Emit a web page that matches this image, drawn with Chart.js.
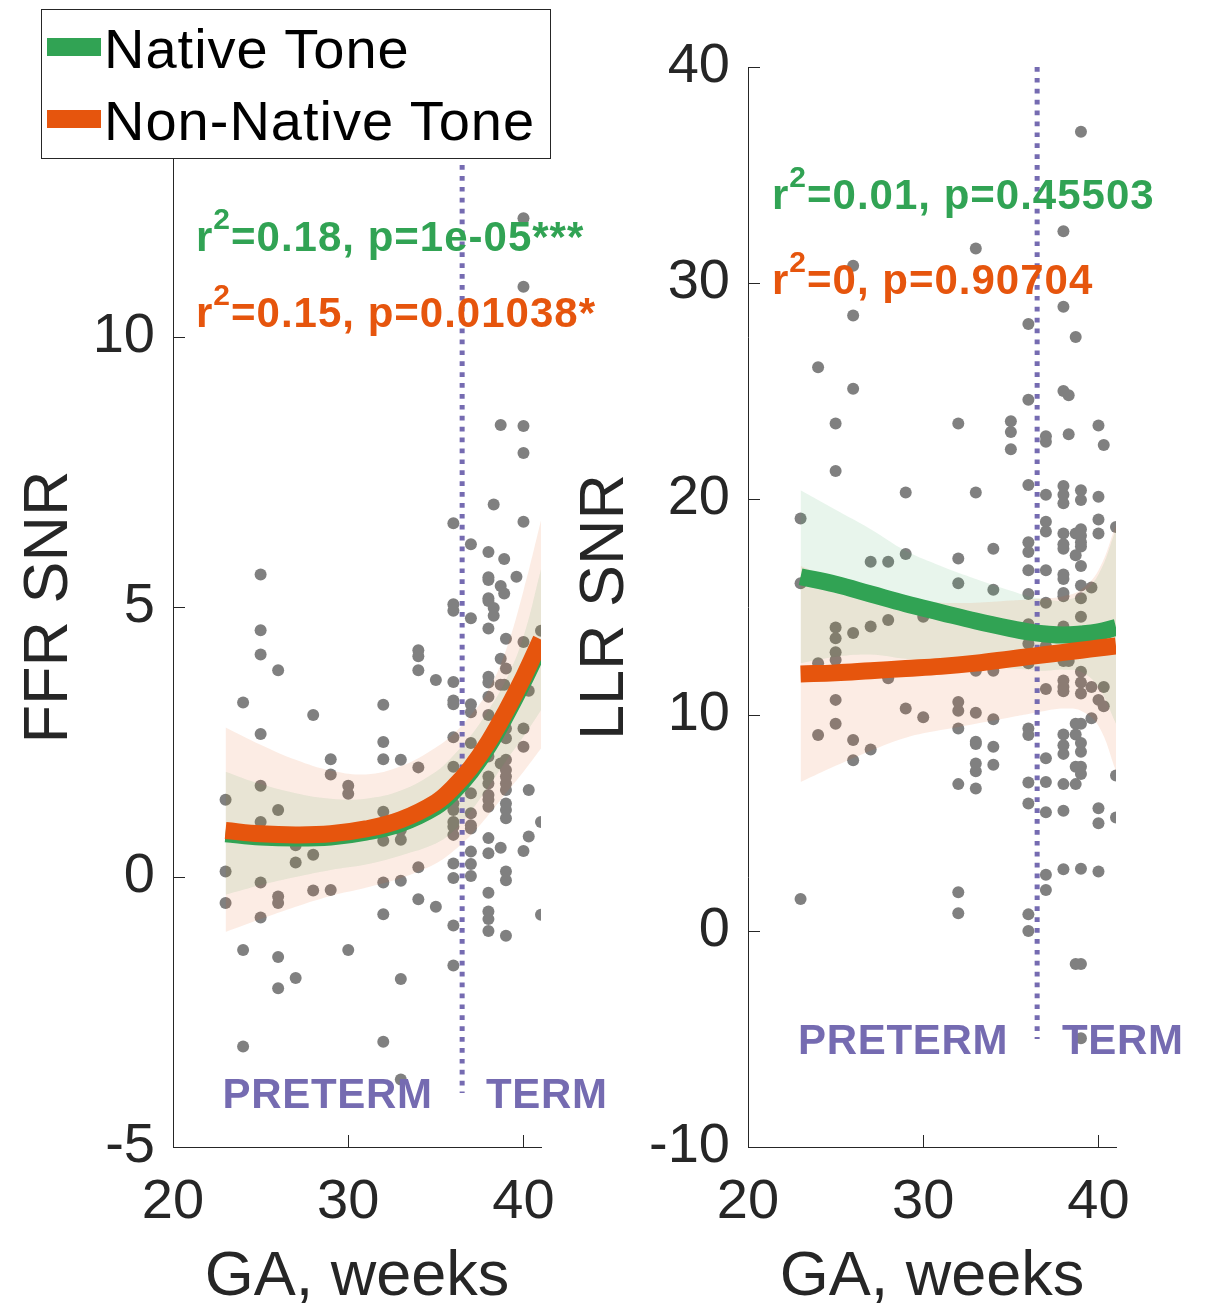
<!DOCTYPE html>
<html>
<head>
<meta charset="utf-8">
<title>FFR / LLR SNR by gestational age</title>
<script src="https://cdn.jsdelivr.net/npm/chart.js@4.4.1/dist/chart.umd.min.js"></script>
<style>
    body { margin: 0; background: #fff; font-family: "Liberation Sans", Arial, sans-serif; }
    #page { position: relative; width: 1210px; height: 1306px; overflow: hidden; }
    canvas { position: absolute; top: 0; }
    #ffrChart { left: 0; }
    #llrChart { left: 560px; }
    .legend { position: absolute; left: 41px; top: 9px; width: 508px; height: 148px; border: 1px solid #262626; background: #fff; }
    .legend .swatch { position: absolute; left: 5px; width: 54px; height: 18px; }
    .legend .label { position: absolute; left: 62px; font-size: 56px; line-height: 56px; letter-spacing: 1px; color: #000; white-space: nowrap; }
    .stat { position: absolute; font-weight: bold; font-size: 42px; line-height: 42px; letter-spacing: 1px; white-space: nowrap; }
    .stat .sq { font-size: 30px; position: relative; top: -22px; }
    .native { color: #31a354; }
    .nonnative { color: #e6550d; }
    .period { position: absolute; font-weight: bold; font-size: 42px; line-height: 42px; letter-spacing: 0.7px; color: #756bb1; white-space: nowrap; }
</style>
</head>
<body>
<div id="page">
    <canvas id="ffrChart" width="600" height="1306"></canvas>
    <canvas id="llrChart" width="650" height="1306"></canvas>

    <div class="legend">
        <span class="swatch" style="top:28px;background:#31a354"></span>
        <span class="label" style="top:11px">Native Tone</span>
        <span class="swatch" style="top:100px;background:#e6550d"></span>
        <span class="label" style="top:82.6px">Non-Native Tone</span>
    </div>

    <div class="stat native" style="left:196px;top:216.1px">r<span class="sq">2</span>=0.18, p=1e-05***</div>
    <div class="stat nonnative" style="left:196px;top:292.4px">r<span class="sq">2</span>=0.15, p=0.01038*</div>
    <div class="stat native" style="left:772px;top:174.4px">r<span class="sq">2</span>=0.01, p=0.45503</div>
    <div class="stat nonnative" style="left:772px;top:259.4px">r<span class="sq">2</span>=0, p=0.90704</div>

    <div class="period" style="left:222.5px;top:1073.4px">PRETERM</div>
    <div class="period" style="left:486px;top:1073.4px">TERM</div>
    <div class="period" style="left:798px;top:1019.4px">PRETERM</div>
    <div class="period" style="left:1062px;top:1019.4px">TERM</div>
</div>

<script>
// FFR SNR per infant (GA in weeks)
const ffrGA = [
    40, 40, 38.7, 40, 40, 38.3, 40, 36, 37, 38,
    38.9, 25, 38, 38, 39.6, 38.7, 38.9, 38, 38, 36,
    36, 38.3, 38.3, 37, 38, 25, 41, 39, 40, 34,
    34, 25, 38.7, 26, 34, 39, 35, 36, 38, 38,
    38.7, 38.9, 40.3, 24, 36, 36, 37, 37, 38, 32,
    28, 38, 25, 40, 39, 39, 32, 36, 37, 40,
    29, 32, 33, 39, 34, 36, 39, 39, 39, 39,
    38.7, 38, 38, 38, 29, 30, 30, 25, 23, 26,
    25, 32, 33, 33, 32, 36, 36, 36, 36, 36,
    38, 38, 38, 37, 37, 37, 37, 39, 39, 39,
    40.3, 41, 40.3, 40, 27, 28, 27, 23, 25, 37,
    37, 37, 36, 36, 38, 38, 38.7, 34, 33, 32,
    39, 39, 26, 26, 28, 29, 23, 25, 32, 34,
    35, 38, 41, 36, 38, 38, 38, 39, 24, 26,
    30, 27, 26, 33, 36, 24, 32, 33
];
const ffrSNR = [
    12.2, 10.93, 8.37, 8.35, 7.85, 6.9, 6.58, 6.55, 6.16, 6.02,
    5.89, 5.6, 5.55, 5.5, 5.56, 5.39, 5.25, 5.16, 5.11, 5.05,
    4.93, 4.98, 4.84, 4.79, 4.6, 4.57, 4.56, 4.41, 4.35, 4.2,
    4.09, 4.12, 4.04, 3.83, 3.83, 3.86, 3.65, 3.61, 3.71, 3.6,
    3.56, 3.56, 3.45, 3.23, 3.27, 3.2, 3.2, 3.05, 3.34, 3.19,
    3.0, 3.0, 2.65, 2.75, 2.75, 2.57, 2.5, 2.59, 2.48, 2.41,
    2.18, 2.18, 2.17, 2.17, 2.03, 2.04, 1.98, 1.86, 1.73, 1.61,
    2.1, 2.23, 1.86, 1.73, 1.9, 1.69, 1.54, 1.69, 1.43, 1.24,
    1.02, 1.21, 0.87, 0.69, 0.67, 1.36, 1.24, 1.02, 0.93, 0.78,
    1.52, 1.43, 1.3, 1.55, 1.18, 0.96, 0.9, 1.36, 1.24, 1.09,
    1.61, 1.02, 0.75, 0.48, 0.59, 0.41, 0.27, 0.1, -0.1, 0.47,
    0.24, 0.02, 0.25, -0.02, 0.72, 0.44, 0.54, 0.18, -0.07, -0.1,
    0.1, -0.06, -0.36, -0.48, -0.25, -0.24, -0.48, -0.75, -0.69, -0.41,
    -0.55, -0.29, -0.7, -0.9, -0.64, -0.78, -1.0, -1.09, -1.35, -1.48,
    -1.35, -1.87, -2.06, -1.89, -1.64, -3.14, -3.05, -3.75
];

// LLR SNR per infant
const llrGA = [
    39, 38, 33, 26, 26, 38, 36, 38.7, 24, 26,
    36, 38, 38.3, 25, 32, 35, 35, 35, 37, 37,
    38.3, 40, 40.3, 25, 36, 29, 33, 38, 38, 38,
    37, 39, 39, 40, 23, 37, 37, 40, 40, 41,
    38, 39, 39, 38.7, 39, 38.7, 39, 36, 36, 38,
    38, 27, 28, 29, 32, 34, 39, 36, 37, 38,
    38, 23, 32, 39, 39.6, 34, 36, 38, 38, 37,
    39, 30, 39, 25, 25, 25, 25, 26, 27, 28,
    36, 36, 36, 38, 38, 39, 37, 24, 36, 38,
    38.3, 33, 34, 28, 39, 39, 38, 38, 38, 37,
    39.6, 40.3, 39, 40, 40.3, 25, 32, 32, 33, 29,
    30, 34, 39.6, 39, 38.7, 25, 24, 36, 36, 38,
    38.7, 26, 27, 32, 33, 33, 34, 39, 39, 38,
    38, 26, 37, 33, 33, 34, 38.7, 39, 39, 41,
    32, 33, 36, 37, 38, 38.7, 36, 37, 38, 40,
    40, 41, 37, 37, 38, 39, 40, 23, 32, 32,
    36, 36, 38.7, 39, 39
];
const llrSNR = [
    37, 32.4, 31.6, 30.8, 28.5, 28.9, 28.1, 27.5, 26.1, 25.1,
    24.6, 25.0, 24.8, 23.5, 23.5, 23.6, 23.1, 22.3, 22.9, 22.65,
    23.0, 23.4, 22.5, 21.3, 20.65, 20.3, 20.3, 20.6, 20.2, 19.8,
    20.2, 20.4, 19.95, 20.1, 19.1, 18.95, 18.5, 19.05, 18.4, 18.7,
    18.4, 18.6, 18.3, 18.4, 17.8, 17.4, 18.0, 18.0, 17.55, 17.9,
    17.7, 17.1, 17.1, 17.45, 17.25, 17.7, 16.9, 16.7, 16.7, 16.5,
    16.3, 16.1, 16.1, 16.0, 15.9, 15.8, 15.6, 15.65, 15.5, 15.2,
    15.4, 14.55, 14.55, 14.05, 13.55, 12.9, 12.55, 13.8, 14.1, 14.4,
    14.2, 13.7, 13.3, 14.1, 13.8, 13.75, 13.2, 12.4, 12.4, 12.5,
    12.5, 12.05, 12.05, 11.7, 12.0, 11.5, 11.6, 11.3, 11.1, 11.2,
    11.3, 11.3, 11.0, 10.7, 10.4, 10.7, 10.6, 10.2, 10.1, 10.3,
    9.9, 9.8, 9.85, 9.6, 9.6, 9.6, 9.07, 9.38, 9.07, 9.1,
    9.1, 8.84, 8.4, 9.38, 8.76, 8.66, 8.53, 8.7, 8.3, 8.6,
    8.2, 7.9, 8.0, 7.76, 7.4, 7.7, 7.6, 7.6, 7.27, 7.2,
    6.8, 6.6, 6.87, 6.9, 6.8, 6.8, 5.9, 5.5, 5.57, 5.68,
    4.99, 5.25, 2.6, 1.9, 2.86, 2.88, 2.75, 1.48, 1.79, 0.82,
    0.77, 0.0, -1.53, -1.53, -4.97
];

// fitted curves and confidence bands, sampled at these GA values
const fitGA = [23, 25, 27, 29, 31, 33, 35, 36, 37, 38, 39, 40, 41];

const ffrNativeFit   = [0.80, 0.74, 0.72, 0.74, 0.83, 0.99, 1.30, 1.58, 1.95, 2.42, 2.99, 3.62, 4.30];
const ffrNativeUpper = [1.95, 1.72, 1.55, 1.45, 1.45, 1.60, 1.95, 2.25, 2.62, 3.09, 3.65, 4.45, 5.70];
const ffrNativeLower = [-0.33, -0.15, 0.0, 0.13, 0.23, 0.40, 0.62, 0.85, 1.22, 1.67, 2.15, 2.60, 3.09];
const ffrNonNativeFit   = [0.86, 0.80, 0.78, 0.80, 0.89, 1.06, 1.38, 1.66, 2.03, 2.50, 3.07, 3.70, 4.40];
const ffrNonNativeUpper = [2.77, 2.45, 2.17, 1.97, 1.90, 2.05, 2.40, 2.65, 3.00, 3.46, 4.20, 5.30, 6.60];
const ffrNonNativeLower = [-1.02, -0.78, -0.55, -0.35, -0.20, -0.02, 0.25, 0.48, 0.78, 1.15, 1.55, 1.95, 2.38];

const llrNativeFit   = [16.4, 16.05, 15.6, 15.15, 14.75, 14.35, 14.0, 13.85, 13.75, 13.7, 13.75, 13.85, 14.05];
const llrNativeUpper = [20.4, 19.5, 18.6, 17.6, 16.9, 16.3, 15.75, 15.5, 15.35, 15.3, 15.6, 16.5, 18.6];
const llrNativeLower = [12.4, 12.7, 12.8, 12.6, 12.5, 12.3, 12.15, 12.1, 12.05, 12.1, 12.0, 11.3, 9.6];
const llrNonNativeFit   = [11.9, 11.95, 12.05, 12.15, 12.25, 12.4, 12.6, 12.7, 12.8, 12.9, 13.0, 13.1, 13.2];
const llrNonNativeUpper = [16.9, 16.25, 15.75, 15.35, 15.2, 15.2, 15.3, 15.35, 15.4, 15.5, 15.8, 16.7, 18.8];
const llrNonNativeLower = [6.9, 7.65, 8.35, 8.95, 9.3, 9.6, 9.9, 10.05, 10.2, 10.3, 10.2, 9.5, 7.4];

// preterm / term cut-off
const termGA = [36.5, 36.5];
const ffrTermLineY = [15, -4];
const llrTermLineY = [40, -5];

const GREEN = '#31a354';
const ORANGE = '#e6550d';
const PURPLE = '#756bb1';
const GRAY = '#808080';
const AXIS = '#262626';

Chart.defaults.font.family = '"Liberation Sans", Arial, sans-serif';
Chart.defaults.color = AXIS;
Chart.defaults.animation = false;

function toPoints(xs, ys) {
    return xs.map((x, i) => ({ x: x, y: ys[i] }));
}

// MATLAB-style tick marks pointing into the plot
const inwardTicks = {
    id: 'inwardTicks',
    afterDraw(chart) {
        const { ctx, chartArea, scales } = chart;
        ctx.save();
        ctx.strokeStyle = AXIS;
        ctx.lineWidth = 1;
        ctx.beginPath();
        scales.x.ticks.forEach(t => {
            const px = Math.round(scales.x.getPixelForValue(t.value)) + 0.5;
            ctx.moveTo(px, chartArea.bottom);
            ctx.lineTo(px, chartArea.bottom - 12);
        });
        scales.y.ticks.forEach(t => {
            const py = Math.round(scales.y.getPixelForValue(t.value)) + 0.5;
            ctx.moveTo(chartArea.left, py);
            ctx.lineTo(chartArea.left + 12, py);
        });
        ctx.stroke();
        ctx.restore();
    }
};

function curve(xs, ys, extra) {
    return Object.assign({
        data: toPoints(xs, ys),
        showLine: true,
        pointRadius: 0,
        borderWidth: 0,
        tension: 0.4,
        fill: false
    }, extra);
}

function makePanel(canvasId, p) {
    const ctx = document.getElementById(canvasId).getContext('2d');
    return new Chart(ctx, {
        type: 'scatter',
        data: {
            datasets: [
                { data: toPoints(p.ga, p.snr), backgroundColor: GRAY, pointRadius: 6, pointBorderWidth: 0, order: 20 },
                curve(fitGA, p.nativeUpper, { fill: '+1', backgroundColor: 'rgba(49,163,84,0.11)', order: 12 }),
                curve(fitGA, p.nativeLower, { order: 12 }),
                curve(fitGA, p.nonNativeUpper, { fill: '+1', backgroundColor: 'rgba(230,85,13,0.11)', order: 11 }),
                curve(fitGA, p.nonNativeLower, { order: 11 }),
                {
                    data: toPoints(termGA, p.termY), showLine: true, pointRadius: 0,
                    borderColor: PURPLE, borderWidth: 5, borderDash: [4.7, 6.2], order: 5
                },
                curve(fitGA, p.nativeFit, { borderColor: GREEN, borderWidth: 17, order: 2 }),
                curve(fitGA, p.nonNativeFit, { borderColor: ORANGE, borderWidth: 17, order: 1 })
            ]
        },
        options: {
            responsive: false,
            devicePixelRatio: 1,
            layout: { padding: { left: 0, top: 67, right: p.padRight, bottom: 0 } },
            plugins: { legend: { display: false }, tooltip: { enabled: false } },
            scales: {
                x: {
                    type: 'linear', min: 20, max: 41,
                    ticks: { stepSize: 10, includeBounds: false, maxRotation: 0, padding: 22, font: { size: 56 }, color: AXIS },
                    grid: { display: false, drawTicks: false },
                    border: { display: true, color: AXIS, width: 1 },
                    title: { display: true, text: 'GA, weeks', color: AXIS, font: { size: 63, lineHeight: 0.8 }, padding: { top: 0, bottom: 3 } },
                    afterFit: s => { s.height = 159; }
                },
                y: {
                    type: 'linear', min: p.yMin, max: p.yMax,
                    ticks: { stepSize: p.yStep, padding: 18, font: { size: 56 }, color: AXIS },
                    grid: { display: false, drawTicks: false },
                    border: { display: true, color: AXIS, width: 1 },
                    title: { display: true, text: p.yTitle, color: AXIS, font: { size: 63, lineHeight: 1 }, padding: { top: p.titlePad, bottom: 0 } },
                    afterFit: s => { s.width = p.yWidth; }
                }
            }
        },
        plugins: [inwardTicks]
    });
}

makePanel('ffrChart', {
    ga: ffrGA, snr: ffrSNR,
    nativeFit: ffrNativeFit, nativeUpper: ffrNativeUpper, nativeLower: ffrNativeLower,
    nonNativeFit: ffrNonNativeFit, nonNativeUpper: ffrNonNativeUpper, nonNativeLower: ffrNonNativeLower,
    termY: ffrTermLineY,
    yMin: -5, yMax: 15, yStep: 5, yTitle: 'FFR SNR',
    yWidth: 173, padRight: 59, titlePad: 18
});

makePanel('llrChart', {
    ga: llrGA, snr: llrSNR,
    nativeFit: llrNativeFit, nativeUpper: llrNativeUpper, nativeLower: llrNativeLower,
    nonNativeFit: llrNonNativeFit, nonNativeUpper: llrNonNativeUpper, nonNativeLower: llrNonNativeLower,
    termY: llrTermLineY,
    yMin: -10, yMax: 40, yStep: 10, yTitle: 'LLR SNR',
    yWidth: 188, padRight: 94, titlePad: 14
});
</script>
</body>
</html>
